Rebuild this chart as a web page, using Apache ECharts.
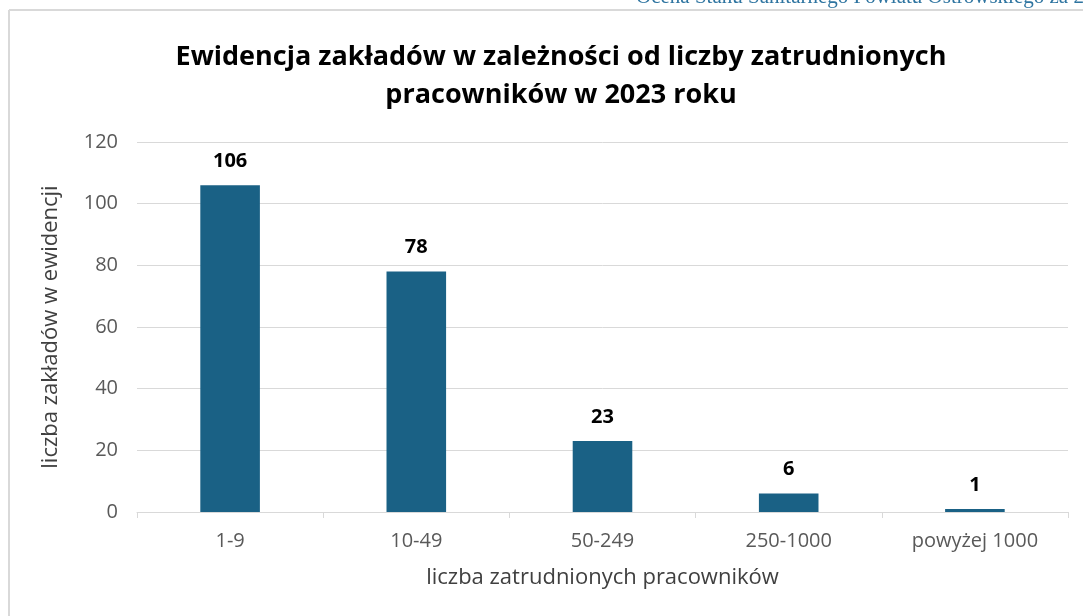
<!DOCTYPE html>
<html>
<head>
<meta charset="utf-8">
<script src="https://cdn.jsdelivr.net/npm/echarts@6/dist/echarts.min.js"></script>
<style>
  html, body { margin: 0; padding: 0; background: #fff; }
  #chart { width: 1083px; height: 616px; }
</style>
</head>
<body>
<div id="chart"></div>
<script>
(function () {
    const categories = ['1-9', '10-49', '50-249', '250-1000', 'powyżej 1000'];
    const values = [106, 78, 23, 6, 1];
    const yTicks = { min: 0, max: 120, interval: 20 };

    const font = '"Open Sans", "Noto Sans", sans-serif';

    let option = {
        backgroundColor: '#fff',
        animation: false,
        title: {
            text: 'Ewidencja zakładów w zależności od liczby zatrudnionych\npracowników w 2023 roku',
            left: 556,
            top: 33,
            textAlign: 'center',
            textStyle: {
                fontFamily: font,
                fontSize: 27,
                fontWeight: 'bold',
                color: '#000',
                lineHeight: 38
            }
        },
        graphic: [
            {
                type: 'line',
                shape: { x1: 9, y1: 10, x2: 1083, y2: 10 },
                style: { stroke: '#d9d9d9', lineWidth: 2 }
            },
            {
                type: 'line',
                shape: { x1: 9, y1: 10, x2: 9, y2: 616 },
                style: { stroke: '#d9d9d9', lineWidth: 2 }
            },
            {
                type: 'text',
                left: 636,
                top: -13,
                style: {
                    text: 'Ocena Stanu Sanitarnego Powiatu Ostrowskiego za 2023',
                    font: '21px "Liberation Serif", serif',
                    fill: '#2e74a0'
                }
            }
        ],
        grid: {
            left: 137,
            right: 15,
            top: 142,
            bottom: 104
        },
        xAxis: {
            type: 'category',
            data: categories,
            name: 'liczba zatrudnionych pracowników',
            nameLocation: 'middle',
            nameGap: 55,
            nameTextStyle: { fontFamily: font, fontSize: 22, color: '#404040' },
            axisLine: { lineStyle: { color: '#d9d9d9', width: 1 } },
            axisTick: { show: true, length: 6, lineStyle: { color: '#d9d9d9' } },
            axisLabel: { fontFamily: font, fontSize: 20, color: '#595959', margin: 19 }
        },
        yAxis: {
            type: 'value',
            min: yTicks.min,
            max: yTicks.max,
            interval: yTicks.interval,
            name: 'liczba zakładów w ewidencji',
            nameLocation: 'middle',
            nameGap: 75,
            nameTextStyle: { fontFamily: font, fontSize: 22, color: '#404040' },
            axisLine: { show: false },
            axisTick: { show: false },
            axisLabel: { fontFamily: font, fontSize: 20, color: '#595959', margin: 19 },
            splitLine: { lineStyle: { color: '#d9d9d9', width: 1 } }
        },
        series: [
            {
                type: 'bar',
                data: values,
                barWidth: '32%',
                itemStyle: { color: '#1a6185' },
                label: {
                    show: true,
                    position: 'top',
                    distance: 14,
                    fontFamily: font,
                    fontSize: 20,
                    fontWeight: 'bold',
                    color: '#000'
                }
            }
        ]
    };

    let myChart = echarts.init(document.getElementById('chart'));
    myChart && myChart.setOption(option);
}());
</script>
</body>
</html>
